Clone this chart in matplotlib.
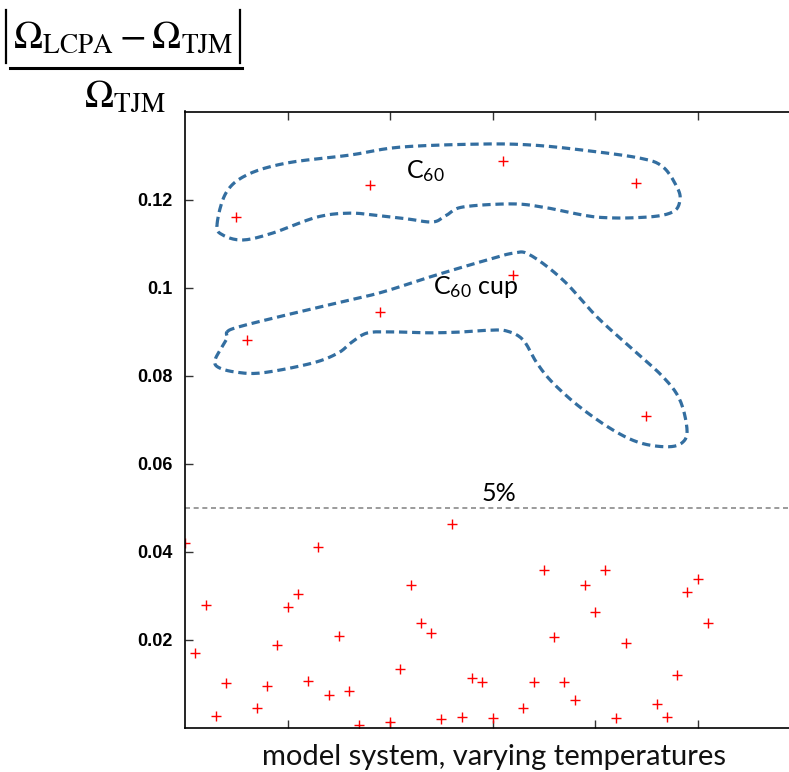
import numpy as np
import matplotlib
matplotlib.use("Agg")
import matplotlib.pyplot as plt
from matplotlib.lines import Line2D
from matplotlib.ticker import FormatStrFormatter

plt.rcParams['mathtext.fontset'] = 'custom'
plt.rcParams['mathtext.rm'] = 'Lato'
plt.rcParams['mathtext.it'] = 'Lato:italic'

# relative deviation for each model system / temperature
dev = [0.0419, 0.0170, 0.0278, 0.0026, 0.0102, 0.1160, 0.0881, 0.0044,
       0.0094, 0.0188, 0.0273, 0.0304, 0.0106, 0.0410, 0.0074, 0.0209,
       0.0083, 0.0006, 0.1233, 0.0944, 0.0013, 0.0132, 0.0325, 0.0237,
       0.0214, 0.0019, 0.0463, 0.0025, 0.0113, 0.0103, 0.0022, 0.1287,
       0.1028, 0.0045, 0.0103, 0.0359, 0.0206, 0.0103, 0.0063, 0.0325,
       0.0262, 0.0358, 0.0021, 0.0191, 0.1238, 0.0708, 0.0054, 0.0024,
       0.0119, 0.0308, 0.0337, 0.0237]
idx = np.arange(len(dev))

threshold = 0.05
yticks = [0.02, 0.04, 0.06, 0.08, 0.10, 0.12]
xticks = [10, 20, 30, 40, 50]

# hand-drawn outlines around the two groups (data coords)
c60_x = [3.12, 4.0, 6.05, 9.95, 16.1, 20.98, 28.78, 33.66, 38.54, 44.39, 46.63,
         48.0, 48.29, 47.61, 45.07, 40.2, 35.32, 32.0, 27.12, 25.56, 24.2, 21.66,
         19.02, 16.1, 12.88, 8.59, 5.66, 3.71]
c60_y = [0.1142, 0.1215, 0.1256, 0.1283, 0.1301, 0.1319, 0.1326, 0.1324, 0.1313,
         0.1294, 0.1274, 0.1228, 0.1199, 0.1172, 0.1160, 0.1160, 0.1181, 0.1190,
         0.1183, 0.1165, 0.1149, 0.1156, 0.1163, 0.1169, 0.1160, 0.1124, 0.1108,
         0.1119]
cup_x = [4.10, 5.17, 9.07, 13.95, 19.02, 23.9, 28.78, 32.0, 33.66, 36.88, 40.2,
         43.41, 46.63, 48.29, 48.98, 48.49, 47.02, 44.39, 41.76, 38.54, 35.9,
         34.34, 32.98, 31.41, 29.76, 27.12, 23.9, 20.49, 17.85, 16.29, 14.93,
         12.39, 7.51, 4.88, 3.22, 2.93, 3.61, 4.10]
cup_y = [0.0899, 0.0910, 0.0933, 0.0960, 0.0988, 0.1024, 0.1058, 0.1078, 0.1074,
         0.1017, 0.0933, 0.0865, 0.0797, 0.0744, 0.0676, 0.0647, 0.0638, 0.0647,
         0.0676, 0.0728, 0.0783, 0.0828, 0.0881, 0.0901, 0.0903, 0.0899, 0.0897,
         0.0899, 0.0897, 0.0876, 0.0851, 0.0828, 0.0806, 0.0808, 0.0819, 0.0835,
         0.0865, 0.0885]


def smooth_loop(xs, ys, n=12):
    # closed Catmull-Rom curve through the outline vertices
    p = np.column_stack([xs, ys])
    m = len(p)
    out = []
    t = np.linspace(0, 1, n, endpoint=False)[:, None]
    for i in range(m):
        p0, p1, p2, p3 = p[i - 1], p[i], p[(i + 1) % m], p[(i + 2) % m]
        seg = 0.5 * ((2 * p1) + (-p0 + p2) * t + (2 * p0 - 5 * p1 + 4 * p2 - p3) * t ** 2
                     + (-p0 + 3 * p1 - 3 * p2 + p3) * t ** 3)
        out.append(seg)
    out = np.vstack(out)
    out = np.vstack([out, out[:1]])
    return out[:, 0], out[:, 1]


W, H = 789, 772
fig = plt.figure(figsize=(W / 100, H / 100), dpi=100)
ax = fig.add_axes([185 / W, 1 - 727.5 / H, 615 / W, 616 / H])

ax.plot(idx, dev, '+', color='red', ms=7, mew=1.0)
ax.axhline(threshold, color='#8a8a8a', lw=1.2, ls=(0, (3, 2.2)))

for xs, ys in [(c60_x, c60_y), (cup_x, cup_y)]:
    sx, sy = smooth_loop(xs, ys)
    ax.plot(sx, sy, color='#336ea0', lw=2.3, ls=(0, (2.6, 1.5)))

ax.text(23.4, 0.1265, r'C$_{60}$', fontsize=18, family='Lato', ha='center', va='center')
ax.text(28.3, 0.1000, r'C$_{60}$ cup', fontsize=18, family='Lato', ha='center', va='center')
ax.text(30.6, 0.0531, '5%', fontsize=18, family='Lato', ha='center', va='center')

ax.set_xlim(0, 60)
ax.set_ylim(0, 0.14)
ax.set_xticks(xticks)
ax.set_xticklabels([])
ax.set_yticks(yticks)
ax.yaxis.set_major_formatter(FormatStrFormatter('%g'))
ax.tick_params(direction='in', length=6, width=1, color='#333333', top=True,
               right=False, pad=9)
for lbl in ax.get_yticklabels():
    lbl.set_fontfamily('Liberation Sans')
    lbl.set_fontweight('bold')
    lbl.set_fontsize(13)
for s in ax.spines.values():
    s.set_linewidth(1.2)
    s.set_color('black')

fig.text(494 / W, 1 - 757 / H, 'model system, varying temperatures',
         fontsize=21, family='Lato', ha='center', va='center', color='#111111')

# y quantity written as a fraction in the upper left corner
num = fig.text(123 / W, 1 - 48 / H, r'$\Omega_{\mathrm{LCPA}} - \Omega_{\mathrm{TJM}}$',
               fontsize=28, math_fontfamily='stix', ha='center', va='baseline')
fig.text(125 / W, 1 - 107 / H, r'$\Omega_{\mathrm{TJM}}$',
         fontsize=28, math_fontfamily='stix', ha='center', va='baseline')
fig.canvas.draw()
bb = num.get_window_extent()
for xb in (bb.x0 - 7, bb.x1 + 7):
    fig.add_artist(Line2D([xb / W, xb / W], [1 - 10 / H, 1 - 63 / H],
                          transform=fig.transFigure, color='black', lw=1.6))
fig.add_artist(Line2D([10 / W, 242 / W], [1 - 68 / H, 1 - 68 / H],
                      transform=fig.transFigure, color='black', lw=2.2))

fig.savefig('out.png', dpi=100)
